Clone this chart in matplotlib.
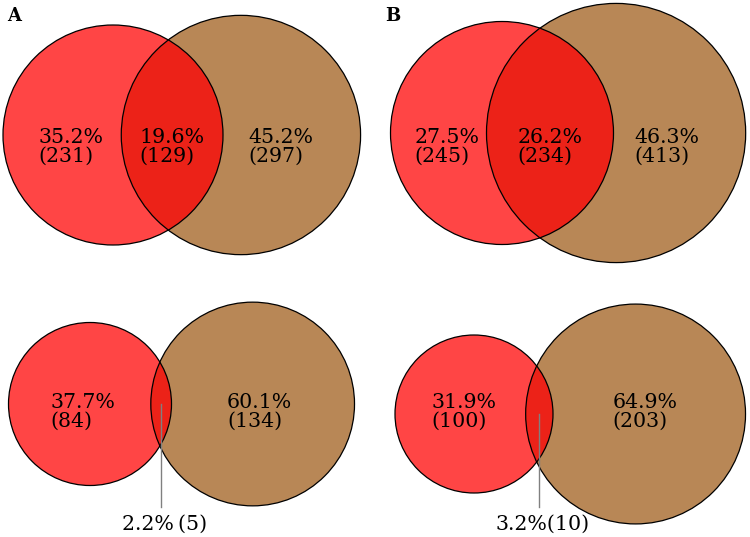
import numpy as np
import matplotlib
matplotlib.use('Agg')
import matplotlib.pyplot as plt
from matplotlib.patches import Circle

# counts per region: left only, both, right only
left_only = [231, 245, 84, 100]
both = [129, 234, 5, 10]
right_only = [297, 413, 134, 203]
column_labels = ['A', 'B']
overlap_sep = ['\u2009', '', '\u2009', '']

left_color = '#ff4545'
right_color = '#b88756'
both_color = '#ec2218'

# layout (pixels): left circle centre x, centre y, left circle radius, label row y
layout = [(113, 135, 110, 147), (502, 133, 111.5, 147),
          (90, 404, 81.5, 412), (474, 414, 79, 412)]


def lens_area(r1, r2, d):
    if d >= r1 + r2:
        return 0.0
    if d <= abs(r1 - r2):
        return np.pi * min(r1, r2) ** 2
    a1 = r1 ** 2 * np.arccos((d * d + r1 * r1 - r2 * r2) / (2 * d * r1))
    a2 = r2 ** 2 * np.arccos((d * d + r2 * r2 - r1 * r1) / (2 * d * r2))
    k = np.sqrt((-d + r1 + r2) * (d + r1 - r2) * (d - r1 + r2) * (d + r1 + r2))
    return a1 + a2 - 0.5 * k


def solve_d(r1, r2, area):
    lo, hi = abs(r1 - r2) + 1e-9, r1 + r2
    for _ in range(100):
        mid = 0.5 * (lo + hi)
        if lens_area(r1, r2, mid) > area:
            lo = mid
        else:
            hi = mid
    return 0.5 * (lo + hi)


fig = plt.figure(figsize=(7.5, 5.37), dpi=100)
ax = fig.add_axes([0, 0, 1, 1])
ax.set_xlim(0, 750)
ax.set_ylim(537, 0)
ax.set_aspect('equal')
ax.axis('off')

font = dict(family='DejaVu Serif', fontsize=14.8)

for i in range(4):
    n1 = left_only[i] + both[i]
    n2 = right_only[i] + both[i]
    total = left_only[i] + both[i] + right_only[i]
    r1 = np.sqrt(n1 / np.pi)
    r2 = np.sqrt(n2 / np.pi)
    d = solve_d(r1, r2, both[i])

    cx, cy, rpx, ty = layout[i]
    s = rpx / r1
    x1, x2 = cx, cx + d * s
    R1, R2 = r1 * s, r2 * s

    c1 = Circle((x1, cy), R1, fc=left_color, ec='none')
    c2 = Circle((x2, cy), R2, fc=right_color, ec='none')
    ax.add_patch(c1)
    ax.add_patch(c2)
    lens = Circle((x2, cy), R2, fc=both_color, ec='none')
    ax.add_patch(lens)
    lens.set_clip_path(c1)
    ax.add_patch(Circle((x1, cy), R1, fill=False, ec='black', lw=0.9))
    ax.add_patch(Circle((x2, cy), R2, fill=False, ec='black', lw=0.9))

    # label positions (units, left centre at 0)
    m = (d - r2 + r1) / 2
    lc = (n1 * 0 - both[i] * m) / left_only[i]
    lm = (-r1 + d - r2) / 2
    rc = (n2 * d - both[i] * m) / right_only[i]
    rm = (r1 + d + r2) / 2
    xl = cx + 0.5 * (lc + lm) * s
    xr = cx + 0.5 * (rc + rm) * s
    xm = cx + m * s

    kw = dict(ha='center', va='center', multialignment='left', linespacing=1.0)
    ax.text(xl, ty, f'{100 * left_only[i] / total:.1f}%\n({left_only[i]})', **kw, **font)
    ax.text(xr, ty, f'{100 * right_only[i] / total:.1f}%\n({right_only[i]})', **kw, **font)
    pct = 100 * both[i] / total
    if pct > 5:
        ax.text(xm, ty, f'{pct:.1f}%\n({both[i]})', **kw, **font)
    else:
        ax.plot([xm, xm], [cy, 507], color='#808080', lw=1)
        ax.text(xm + 3, 524, f'{pct:.1f}%{overlap_sep[i]}({both[i]})',
                ha='center', va='center', **font)

for j, lab in enumerate(column_labels):
    ax.text([7, 385][j], 7, lab, ha='left', va='top', fontweight='bold',
            family='DejaVu Serif', fontsize=13)

fig.savefig('out.png', dpi=100)
